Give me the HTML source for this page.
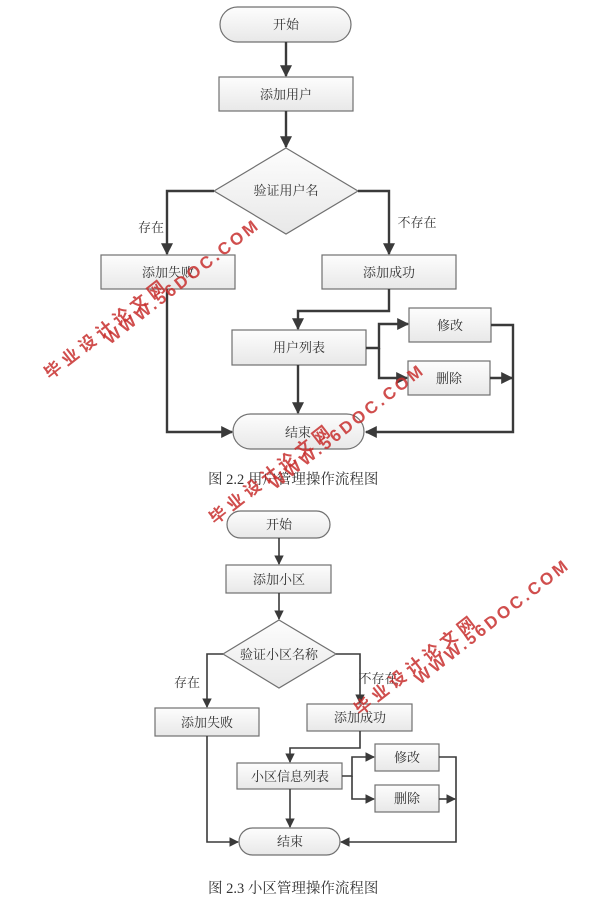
<!DOCTYPE html>
<html><head><meta charset="utf-8"><style>
html,body{margin:0;padding:0;background:#fff;}
svg{display:block;}
text{font-family:"Liberation Serif","Noto Serif CJK SC","Noto Sans CJK SC",serif;fill:#333;}
.wm text{font-family:"Liberation Sans","Noto Sans CJK SC",sans-serif;font-weight:bold;fill:#c8302f;opacity:0.85;}
</style></head><body>
<svg width="600" height="915" viewBox="0 0 600 915" xmlns="http://www.w3.org/2000/svg">
<defs>
<linearGradient id="g" x1="0" y1="0" x2="0" y2="1">
<stop offset="0" stop-color="#fdfdfd"/><stop offset="1" stop-color="#e8e8e8"/></linearGradient>
<marker id="a" viewBox="0 0 10 10" refX="9" refY="5" markerWidth="5" markerHeight="5" orient="auto" markerUnits="strokeWidth">
<path d="M0,0 L10,5 L0,10 z" fill="#3a3a3a"/></marker>
<marker id="b" viewBox="0 0 10 10" refX="9" refY="5" markerWidth="6" markerHeight="6" orient="auto" markerUnits="strokeWidth">
<path d="M0,0 L10,5 L0,10 z" fill="#3a3a3a"/></marker>
</defs>
<g stroke="#707070" stroke-width="1.2" fill="url(#g)">
<rect x="220" y="7" width="131" height="35" rx="17.5"/>
<rect x="219" y="77" width="134" height="34"/>
<polygon points="286,148 358,191 286,234 214,191"/>
<rect x="101" y="255" width="134" height="34"/>
<rect x="322" y="255" width="134" height="34"/>
<rect x="232" y="330" width="134" height="35"/>
<rect x="409" y="308" width="82" height="34"/>
<rect x="408" y="361" width="82" height="34"/>
<rect x="233" y="414" width="131" height="35" rx="17.5"/>
<rect x="227" y="511" width="103" height="27" rx="13.5"/>
<rect x="226" y="565" width="105" height="28"/>
<polygon points="279,620 336,654 279,688 223,654"/>
<rect x="155" y="708" width="104" height="28"/>
<rect x="307" y="704" width="105" height="27"/>
<rect x="237" y="763" width="105" height="26"/>
<rect x="375" y="744" width="64" height="27"/>
<rect x="375" y="785" width="64" height="27"/>
<rect x="239" y="828" width="101" height="27" rx="13.5"/>
</g>
<g stroke="#3a3a3a" stroke-width="2.4" fill="none" marker-end="url(#a)">
<path d="M286,42 V76"/>
<path d="M286,111 V147"/>
<path d="M214,191 H167 V254"/>
<path d="M358,191 H389 V254"/>
<path d="M389,289 V311 H298 V329"/>
<path d="M366,348 H379 V324 H408"/>
<path d="M379,348 V378 H407"/>
<path d="M491,325 H513 V432 H366"/>
<path d="M490,378 H512"/>
<path d="M298,365 V413"/>
<path d="M167,289 V432 H232"/>
</g>
<g stroke="#3a3a3a" stroke-width="1.6" fill="none" marker-end="url(#b)">
<path d="M279,538 V564"/>
<path d="M279,593 V619"/>
<path d="M223,654 H207 V707"/>
<path d="M336,654 H360 V703"/>
<path d="M360,731 V748 H290 V762"/>
<path d="M342,776 H352 V757 H374"/>
<path d="M352,776 V799 H374"/>
<path d="M439,757 H456 V842 H341"/>
<path d="M439,799 H455"/>
<path d="M290,789 V827"/>
<path d="M207,736 V842 H238"/>
</g>
<g font-size="13" text-anchor="middle">
<text x="286" y="29">开始</text>
<text x="286" y="99">添加用户</text>
<text x="286" y="195">验证用户名</text>
<text x="151" y="232">存在</text>
<text x="417" y="227">不存在</text>
<text x="168" y="277">添加失败</text>
<text x="389" y="277">添加成功</text>
<text x="299" y="352">用户列表</text>
<text x="450" y="330">修改</text>
<text x="449" y="383">删除</text>
<text x="298" y="437">结束</text>
<text x="279" y="529">开始</text>
<text x="279" y="584">添加小区</text>
<text x="279" y="659">验证小区名称</text>
<text x="187" y="687">存在</text>
<text x="378" y="683">不存在</text>
<text x="207" y="727">添加失败</text>
<text x="360" y="722">添加成功</text>
<text x="290" y="781">小区信息列表</text>
<text x="407" y="762">修改</text>
<text x="407" y="803">删除</text>
<text x="290" y="846">结束</text>
</g>
<g font-size="14.5">
<text x="208" y="484">图 2.2 用户管理操作流程图</text>
<text x="208" y="893">图 2.3 小区管理操作流程图</text>
</g>
<g class="wm" font-size="17">
<text transform="translate(50,380) rotate(-38)">毕 业 设 计 论 文 网</text>
<text transform="translate(110,345) rotate(-38)" letter-spacing="3">WWW.56DOC.COM</text>
<text transform="translate(215,525) rotate(-38)">毕 业 设 计 论 文 网</text>
<text transform="translate(275,490) rotate(-38)" letter-spacing="3">WWW.56DOC.COM</text>
<text transform="translate(360,716) rotate(-38)">毕 业 设 计 论 文 网</text>
<text transform="translate(420,685) rotate(-38)" letter-spacing="3">WWW.56DOC.COM</text>
</g>
</svg>
</body></html>
